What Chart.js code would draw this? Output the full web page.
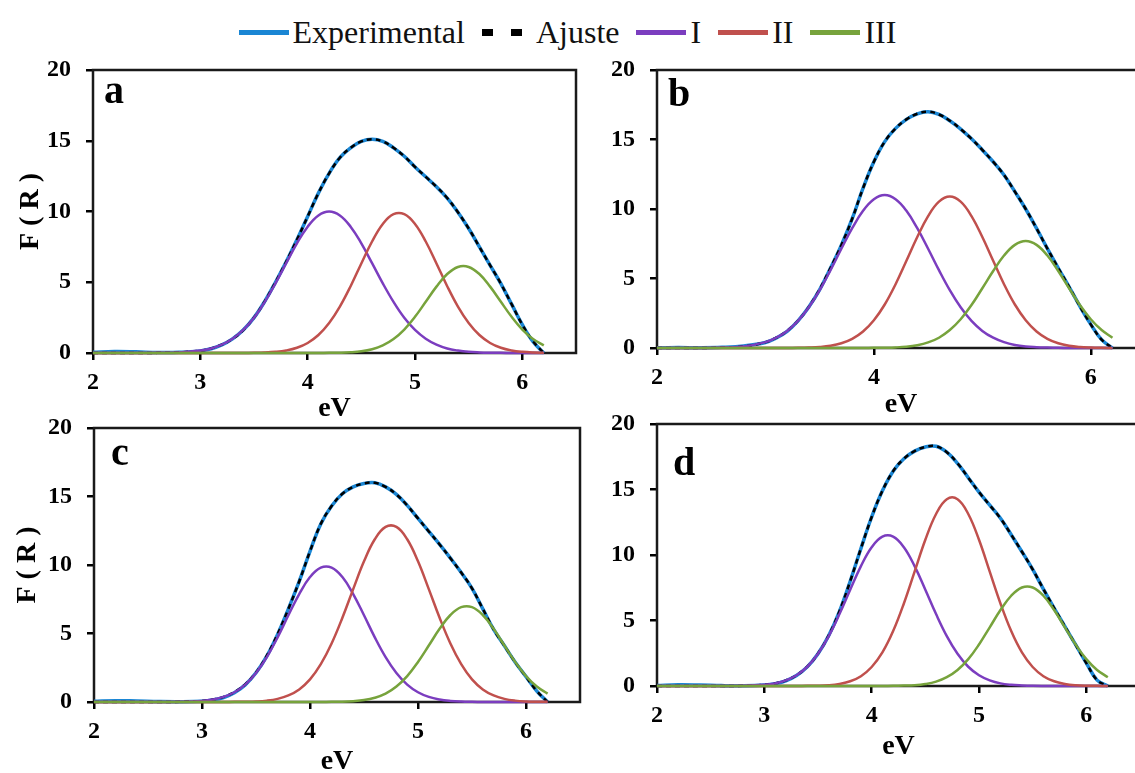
<!DOCTYPE html>
<html lang="es">
<head>
    <meta charset="UTF-8">
    <title>F(R) vs eV</title>
    <script src="https://cdn.jsdelivr.net/npm/chart.js"></script>
    <style>
        body {
            margin: 0;
            width: 1135px;
            height: 773px;
            overflow: hidden;
            position: relative;
            background: #fff;
            font-family: 'Liberation Serif', 'Times New Roman', serif;
        }
        .panel { position: absolute; }
        #legend {
            position: absolute;
            top: 14px;
            left: 0;
            width: 1135px;
            height: 36px;
            display: flex;
            justify-content: center;
            align-items: center;
            font-size: 32px;
            color: #111;
        }
        .item { display: flex; align-items: center; margin-right: 17px; }
        .item:last-child { margin-right: 0; }
        .swatch { width: 50px; height: 5px; margin-right: 4px; }
        .swatch.dots {
            width: 40px; height: 7px; margin-right: 14px;
            background: repeating-linear-gradient(90deg, #000 0 11px, transparent 11px 29px);
        }
    </style>
</head>
<body>

<div id="legend"></div>

<div class="panel" style="left:0;top:40px;"><canvas id="chartA" width="580" height="386"></canvas></div>
<div class="panel" style="left:600px;top:40px;"><canvas id="chartB" width="549" height="382"></canvas></div>
<div class="panel" style="left:0;top:398px;"><canvas id="chartC" width="584" height="381"></canvas></div>
<div class="panel" style="left:600px;top:394px;"><canvas id="chartD" width="544" height="370"></canvas></div>

<script>
    // energies (eV)
    const eV = [2.0, 2.2, 2.4, 2.6, 2.8, 3.0, 3.1, 3.2, 3.3, 3.4, 3.5, 3.6, 3.7, 3.8, 3.9, 4.0, 4.1, 4.2, 4.3, 4.4, 4.5, 4.6, 4.7, 4.8, 4.9, 5.0, 5.1, 5.2, 5.3, 5.4, 5.5, 5.6, 5.7, 5.8, 5.9, 6.0, 6.1, 6.2];

    const seriesNames = ['Experimental', 'Ajuste', 'I', 'II', 'III'];
    const seriesColors = ['#1a86d4', '#000000', '#7b3dbf', '#c0504d', '#77a33c'];
    const yTicks = [0, 5, 10, 15, 20];
    const xTicks = [2, 3, 4, 5, 6];
    const xTicksB = [2, 4, 6];

    // panel a
    const expA    = [0.05, 0.1, 0.08, 0.04, 0.05, 0.15, 0.3, 0.57, 1.0, 1.62, 2.5, 3.65, 5.0, 6.45, 8.0, 9.65, 11.3, 12.7, 13.8, 14.5, 14.95, 15.1, 14.95, 14.5, 13.9, 13.15, 12.45, 11.75, 10.95, 9.95, 8.8, 7.5, 6.2, 4.9, 3.45, 2.0, 0.8, 0];
    const ajusteA = [0, 0, 0, 0.01, 0.04, 0.17, 0.32, 0.59, 1.0, 1.62, 2.5, 3.65, 5.0, 6.45, 8.0, 9.65, 11.3, 12.7, 13.8, 14.5, 14.95, 15.1, 14.95, 14.5, 13.9, 13.15, 12.45, 11.75, 10.95, 9.95, 8.8, 7.5, 6.2, 4.9, 3.45, 2.0, 0.83, 0];
    const bandIA   = [0, 0, 0, 0.01, 0.04, 0.17, 0.32, 0.59, 1.01, 1.63, 2.49, 3.61, 4.92, 6.35, 7.75, 8.93, 9.72, 10.0, 9.72, 8.93, 7.75, 6.35, 4.92, 3.61, 2.49, 1.63, 1.01, 0.59, 0.32, 0.17, 0.08, 0.04, 0.02, 0.01, 0, 0, 0, 0];
    const bandIIA  = [0, 0, 0, 0, 0, 0, 0, 0, 0, 0, 0.01, 0.03, 0.08, 0.18, 0.37, 0.71, 1.27, 2.12, 3.28, 4.72, 6.33, 7.88, 9.12, 9.81, 9.81, 9.12, 7.88, 6.33, 4.72, 3.28, 2.12, 1.27, 0.71, 0.37, 0.18, 0.08, 0.03, 0.01];
    const bandIIIA = [0, 0, 0, 0, 0, 0, 0, 0, 0, 0, 0, 0, 0, 0, 0, 0, 0, 0.01, 0.02, 0.05, 0.12, 0.27, 0.54, 0.99, 1.66, 2.56, 3.62, 4.69, 5.58, 6.08, 6.08, 5.58, 4.69, 3.62, 2.56, 1.66, 0.99, 0.54];

    // panel b
    const expB    = [0.02, 0.03, 0.02, 0.05, 0.15, 0.4, 0.72, 1.2, 1.95, 2.95, 4.2, 5.75, 7.4, 9.3, 11.5, 13.4, 14.85, 15.8, 16.45, 16.85, 17.0, 16.8, 16.35, 15.75, 15.05, 14.25, 13.4, 12.45, 11.25, 10.0, 8.6, 7.15, 5.75, 4.4, 3.0, 1.7, 0.6, 0];
    const ajusteB = [0, 0, 0, 0.03, 0.11, 0.42, 0.74, 1.23, 1.96, 2.96, 4.23, 5.76, 7.4, 9.3, 11.5, 13.4, 14.85, 15.8, 16.45, 16.85, 17.0, 16.8, 16.35, 15.75, 15.05, 14.25, 13.4, 12.45, 11.25, 10.0, 8.6, 7.15, 5.75, 4.4, 3.0, 1.7, 0.6, 0];
    const bandIB   = [0, 0, 0, 0.03, 0.11, 0.42, 0.74, 1.23, 1.95, 2.93, 4.16, 5.6, 7.14, 8.62, 9.87, 10.7, 11.0, 10.7, 9.87, 8.62, 7.14, 5.6, 4.16, 2.93, 1.95, 1.23, 0.74, 0.42, 0.22, 0.11, 0.06, 0.03, 0.01, 0, 0, 0, 0, 0];
    const bandIIB  = [0, 0, 0, 0, 0, 0, 0, 0, 0.01, 0.03, 0.07, 0.16, 0.34, 0.66, 1.19, 2.0, 3.13, 4.59, 6.27, 7.98, 9.49, 10.53, 10.9, 10.53, 9.49, 7.98, 6.27, 4.59, 3.13, 2.0, 1.19, 0.66, 0.34, 0.16, 0.07, 0.03, 0.01, 0];
    const bandIIIB = [0, 0, 0, 0, 0, 0, 0, 0, 0, 0, 0, 0, 0, 0, 0, 0.01, 0.02, 0.04, 0.09, 0.2, 0.4, 0.74, 1.29, 2.07, 3.09, 4.3, 5.54, 6.65, 7.42, 7.7, 7.42, 6.65, 5.54, 4.3, 3.09, 2.07, 1.29, 0.74];

    // panel c
    const expC    = [0.05, 0.1, 0.07, 0.03, 0.02, 0.06, 0.15, 0.33, 0.68, 1.25, 2.13, 3.35, 4.93, 6.8, 8.8, 11.0, 13.0, 14.3, 15.2, 15.7, 15.95, 16.0, 15.7, 15.15, 14.35, 13.4, 12.45, 11.5, 10.5, 9.45, 8.3, 6.8, 5.3, 4.1, 2.9, 1.85, 0.8, 0];
    const ajusteC = [0, 0, 0, 0, 0.01, 0.08, 0.18, 0.37, 0.72, 1.29, 2.16, 3.38, 4.95, 6.8, 8.8, 11.0, 13.0, 14.3, 15.2, 15.7, 15.95, 16.0, 15.7, 15.15, 14.35, 13.4, 12.45, 11.5, 10.5, 9.45, 8.3, 6.8, 5.3, 4.1, 2.9, 1.85, 0.8, 0];
    const bandIC   = [0, 0, 0, 0, 0.01, 0.08, 0.18, 0.37, 0.71, 1.27, 2.12, 3.28, 4.72, 6.33, 7.88, 9.12, 9.81, 9.81, 9.12, 7.88, 6.33, 4.72, 3.28, 2.12, 1.27, 0.71, 0.37, 0.18, 0.08, 0.03, 0.01, 0, 0, 0, 0, 0, 0, 0];
    const bandIIC  = [0, 0, 0, 0, 0, 0, 0, 0, 0.01, 0.02, 0.04, 0.1, 0.23, 0.48, 0.92, 1.65, 2.76, 4.27, 6.15, 8.24, 10.27, 11.88, 12.78, 12.78, 11.88, 10.27, 8.24, 6.15, 4.27, 2.76, 1.65, 0.92, 0.48, 0.23, 0.1, 0.04, 0.02, 0.01];
    const bandIIIC = [0, 0, 0, 0, 0, 0, 0, 0, 0, 0, 0, 0, 0, 0, 0, 0, 0, 0.01, 0.02, 0.06, 0.14, 0.31, 0.61, 1.13, 1.89, 2.92, 4.12, 5.34, 6.35, 6.92, 6.92, 6.35, 5.34, 4.12, 2.92, 1.89, 1.13, 0.61];

    // panel d
    const expD    = [0.04, 0.09, 0.07, 0.03, 0.02, 0.07, 0.17, 0.4, 0.8, 1.46, 2.46, 3.85, 5.7, 8.0, 10.5, 12.9, 14.9, 16.4, 17.35, 17.93, 18.25, 18.3, 17.85, 17.0, 15.9, 14.8, 13.8, 12.8, 11.55, 10.25, 8.9, 7.4, 5.95, 4.55, 3.15, 1.75, 0.45, 0];
    const ajusteD = [0, 0, 0, 0, 0.01, 0.09, 0.2, 0.43, 0.82, 1.48, 2.48, 3.87, 5.7, 8.0, 10.5, 12.9, 14.9, 16.4, 17.35, 17.93, 18.25, 18.3, 17.85, 17.0, 15.9, 14.8, 13.8, 12.8, 11.55, 10.25, 8.9, 7.4, 5.95, 4.55, 3.15, 1.75, 0.45, 0];
    const bandID   = [0, 0, 0, 0, 0.01, 0.09, 0.2, 0.43, 0.82, 1.47, 2.46, 3.81, 5.49, 7.35, 9.15, 10.59, 11.4, 11.4, 10.59, 9.15, 7.35, 5.49, 3.81, 2.46, 1.47, 0.82, 0.43, 0.2, 0.09, 0.04, 0.01, 0, 0, 0, 0, 0, 0, 0];
    const bandIID  = [0, 0, 0, 0, 0, 0, 0, 0, 0, 0.01, 0.02, 0.06, 0.16, 0.36, 0.75, 1.45, 2.56, 4.19, 6.3, 8.73, 11.16, 13.13, 14.26, 14.26, 13.13, 11.16, 8.73, 6.3, 4.19, 2.56, 1.45, 0.75, 0.36, 0.16, 0.06, 0.02, 0.01, 0];
    const bandIIID = [0, 0, 0, 0, 0, 0, 0, 0, 0, 0, 0, 0, 0, 0, 0, 0, 0, 0.01, 0.03, 0.06, 0.15, 0.33, 0.67, 1.22, 2.05, 3.17, 4.48, 5.8, 6.89, 7.52, 7.52, 6.89, 5.8, 4.48, 3.17, 2.05, 1.22, 0.67];

    Chart.defaults.font.family = "'Liberation Serif', 'Times New Roman', serif";
    Chart.defaults.color = '#000';

    // shared legend at the top
    const legend = document.getElementById('legend');
    seriesNames.forEach(function(name, i) {
        const item = document.createElement('div');
        item.className = 'item';
        const sw = document.createElement('span');
        sw.className = i === 1 ? 'swatch dots' : 'swatch';
        if (i !== 1) sw.style.background = seriesColors[i];
        const txt = document.createElement('span');
        txt.textContent = name;
        item.appendChild(sw);
        item.appendChild(txt);
        legend.appendChild(item);
    });

    // box around the plot area + panel letter
    const framePlugin = {
        id: 'frame',
        beforeDatasetsDraw(chart, args, opts) {
            const a = chart.chartArea, ctx = chart.ctx;
            ctx.save();
            ctx.strokeStyle = '#1a1a1a';
            ctx.lineWidth = 2.5;
            ctx.strokeRect(a.left, a.top, a.right - a.left, a.bottom - a.top);
            ctx.restore();
        },
        afterDraw(chart, args, opts) {
            const a = chart.chartArea, ctx = chart.ctx;
            ctx.save();
            ctx.font = "bold 40px 'Liberation Serif'";
            ctx.fillStyle = '#000';
            ctx.textBaseline = 'alphabetic';
            ctx.fillText(opts.letter, a.left + opts.dx, a.top + opts.dy);
            ctx.restore();
        }
    };

    function line(arr, i, extra) {
        return Object.assign({
            label: seriesNames[i],
            data: eV.map(function(x, k) { return {x: x, y: arr[k]}; }),
            borderColor: seriesColors[i],
            borderWidth: 2.5,
            pointRadius: 0,
            fill: false,
            tension: 0.4,
            clip: 8,
            order: 5 - i
        }, extra || {});
    }

    function makePanel(id, p) {
        const tickMark = { drawOnChartArea: false, drawTicks: true, tickLength: 7, color: '#000', lineWidth: 2.5 };
        new Chart(document.getElementById(id), {
            type: 'line',
            data: {
                datasets: [
                    line(p.exp, 0, { borderWidth: 3.5 }),
                    line(p.fit, 1, { borderWidth: 2.5, borderDash: [5, 4] }),
                    line(p.b1, 2),
                    line(p.b2, 3),
                    line(p.b3, 4)
                ]
            },
            options: {
                responsive: false,
                animation: false,
                events: [],
                layout: { padding: { top: 30, right: 4, left: 0, bottom: 0 } },
                plugins: {
                    legend: { display: false },
                    tooltip: { enabled: false },
                    frame: { letter: p.letter, dx: p.dx, dy: p.dy }
                },
                scales: {
                    x: {
                        type: 'linear',
                        min: 2,
                        max: 6.5,
                        afterBuildTicks: function(scale) {
                            scale.ticks = p.xTicks.map(function(v) { return { value: v }; });
                        },
                        ticks: { padding: 8, font: { size: 24, weight: 'bold' }, color: '#000' },
                        grid: tickMark,
                        border: { display: false },
                        title: { display: true, text: 'eV', font: { size: 28, weight: 'bold' }, color: '#000', padding: 0 },
                        afterFit: function(scale) { scale.height = p.xH; }
                    },
                    y: {
                        min: 0,
                        max: 20,
                        afterBuildTicks: function(scale) {
                            scale.ticks = yTicks.map(function(v) { return { value: v }; });
                        },
                        ticks: { padding: 15, font: { size: 24, weight: 'bold' }, color: '#000' },
                        grid: tickMark,
                        border: { display: false },
                        title: { display: p.yTitle, text: 'F ( R )', font: { size: 28, weight: 'bold' }, color: '#000', padding: { top: p.yTitlePad, bottom: 0 } },
                        afterFit: function(scale) { scale.width = p.yW; }
                    }
                }
            },
            plugins: [framePlugin]
        });
    }

    makePanel('chartA', { exp: expA, fit: ajusteA, b1: bandIA, b2: bandIIA, b3: bandIIIA, letter: 'a', dx: 11, dy: 33, xTicks: xTicks, xH: 73, yW: 93, yTitle: true, yTitlePad: 14 });
    makePanel('chartB', { exp: expB, fit: ajusteB, b1: bandIB, b2: bandIIB, b3: bandIIIB, letter: 'b', dx: 11, dy: 36, xTicks: xTicksB, xH: 74, yW: 57, yTitle: false, yTitlePad: 0 });
    makePanel('chartC', { exp: expC, fit: ajusteC, b1: bandIC, b2: bandIIC, b3: bandIIIC, letter: 'c', dx: 17, dy: 37, xTicks: xTicks, xH: 77, yW: 94, yTitle: true, yTitlePad: 11 });
    makePanel('chartD', { exp: expD, fit: ajusteD, b1: bandID, b2: bandIID, b3: bandIIID, letter: 'd', dx: 16, dy: 51, xTicks: xTicks, xH: 78, yW: 57, yTitle: false, yTitlePad: 0 });
</script>

</body>
</html>
